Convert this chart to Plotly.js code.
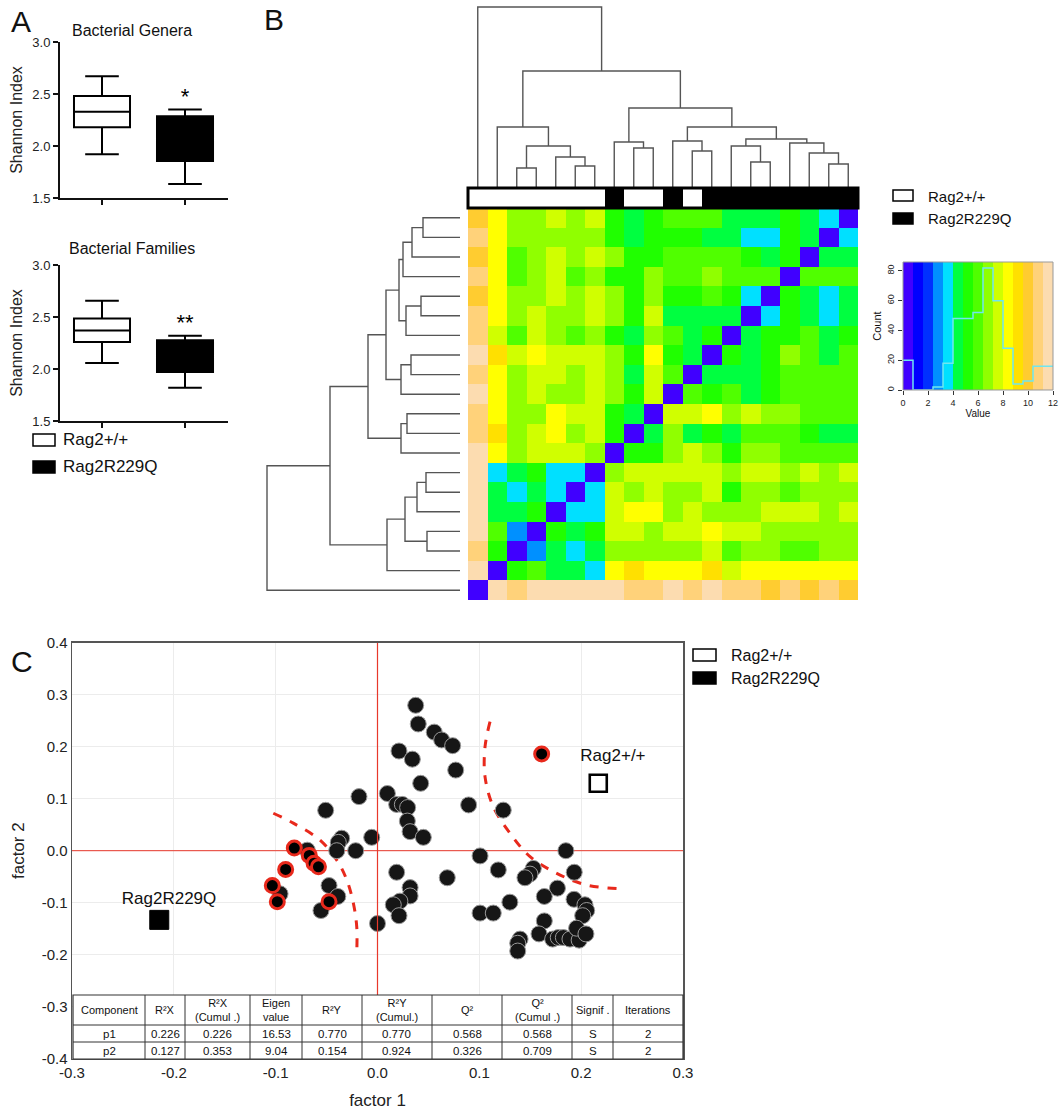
<!DOCTYPE html>
<html><head><meta charset="utf-8">
<script src="https://cdn.plot.ly/plotly-3.0.1.min.js"></script>
<style>body{margin:0;background:#fff}#chart{width:1060px;height:1120px}</style>
</head><body><div id="chart"></div>
<script>
// ---------------- Panel A data ----------------
const boxGroups = ['Rag2+/+', 'Rag2R229Q'];
const boxFill = ['#ffffff', '#000000'];
const generaQ1 = [2.18, 1.856];
const generaMedian = [2.33, 2.06];
const generaQ3 = [2.48, 2.285];
const generaLow = [1.92, 1.635];
const generaHigh = [2.67, 2.35];
const familiesQ1 = [2.26, 1.97];
const familiesMedian = [2.37, 2.12];
const familiesQ3 = [2.486, 2.277];
const familiesLow = [2.058, 1.82];
const familiesHigh = [2.656, 2.32];
const generaSig = ['', '*'];
const familiesSig = ['', '**'];
const shannonTicks = [1.5, 2.0, 2.5, 3.0];

// ---------------- Panel B data ----------------
const sampleIdx = [1,2,3,4,5,6,7,8,9,10,11,12,13,14,15,16,17,18,19,20];
const sampleGroup = [0,0,0,0,0,0,0,1,0,0,1,0,1,1,1,1,1,1,1,1]; // 0 = Rag2+/+, 1 = Rag2R229Q
const distMatrix = [
 [10.0,8.4,6.8,6.8,7.6,6.8,7.6,5.2,4.4,5.2,6.0,6.0,6.0,4.4,4.4,4.4,5.2,4.4,3.6,0.4],
 [10.8,8.4,6.8,6.8,6.8,6.8,6.8,5.2,4.4,5.2,5.2,5.2,4.4,4.4,3.6,3.6,5.2,4.4,0.4,3.6],
 [10.0,8.4,6.0,6.8,7.6,6.8,7.6,6.8,5.2,5.2,6.0,6.0,6.0,6.0,5.2,4.4,5.2,0.4,4.4,4.4],
 [10.8,8.4,6.0,6.8,7.6,6.0,6.8,5.2,5.2,6.8,6.0,6.0,6.8,6.0,6.0,6.0,0.4,6.0,6.0,6.0],
 [10.0,8.4,6.8,6.8,7.6,6.8,7.6,6.8,5.2,6.8,5.2,5.2,6.0,5.2,3.6,0.4,5.2,4.4,3.6,4.4],
 [10.8,8.4,6.8,7.6,6.8,6.8,7.6,6.8,5.2,7.6,4.4,4.4,4.4,4.4,0.4,3.6,5.2,4.4,3.6,4.4],
 [10.8,7.6,6.0,7.6,6.8,6.0,6.8,5.2,4.4,6.8,6.0,4.4,5.2,0.4,4.4,5.2,5.2,6.0,4.4,5.2],
 [11.6,9.2,7.6,8.4,7.6,7.6,7.6,6.8,5.2,8.4,5.2,4.4,0.4,5.2,4.4,5.2,6.8,6.0,4.4,6.0],
 [10.8,8.4,6.8,7.6,7.6,6.8,7.6,6.8,4.4,7.6,6.0,0.4,4.4,4.4,4.4,5.2,6.0,6.0,6.0,6.0],
 [11.6,8.4,6.8,7.6,6.8,6.8,7.6,6.8,5.2,7.6,0.4,6.0,5.2,6.0,4.4,5.2,6.0,6.0,6.0,6.0],
 [10.8,8.4,6.8,6.8,8.4,7.6,7.6,5.2,4.4,0.4,7.6,7.6,8.4,6.8,7.6,6.8,6.8,6.0,6.0,6.0],
 [10.8,9.2,6.8,7.6,8.4,6.8,7.6,5.2,0.4,4.4,6.8,4.4,5.2,4.4,6.0,6.0,6.0,5.2,4.4,4.4],
 [11.6,8.4,6.8,7.6,7.6,7.6,6.8,0.4,5.2,5.2,6.8,7.6,6.8,5.2,6.8,6.8,6.0,6.0,6.0,6.0],
 [11.6,3.6,4.4,5.2,3.6,3.6,0.4,6.8,7.6,7.6,7.6,7.6,7.6,6.8,7.6,7.6,6.8,7.6,6.8,7.6],
 [11.6,4.4,3.6,4.4,3.6,0.4,3.6,7.6,6.8,7.6,6.8,6.8,7.6,5.2,6.8,6.8,6.0,6.8,6.8,6.8],
 [11.6,4.4,4.4,5.2,0.4,3.6,3.6,7.6,8.4,8.4,6.8,7.6,6.8,6.8,6.8,7.6,7.6,7.6,6.8,7.6],
 [11.6,6.0,2.8,0.4,5.2,4.4,5.2,7.6,7.6,6.8,7.6,7.6,8.4,7.6,7.6,6.8,6.8,6.8,6.8,6.8],
 [10.8,5.2,0.4,2.8,4.4,3.6,4.4,6.8,6.8,6.8,6.8,6.8,7.6,6.0,6.8,6.8,6.0,6.0,6.8,6.8],
 [11.6,0.4,5.2,6.0,4.4,4.4,3.6,8.4,9.2,8.4,8.4,8.4,9.2,7.6,8.4,8.4,8.4,8.4,8.4,8.4],
 [0.4,11.6,10.8,11.6,11.6,11.6,11.6,11.6,10.8,10.8,11.6,10.8,11.6,10.8,10.8,10.0,10.8,10.0,10.8,10.0]
];
// column dendrogram: [left, right, height]; negative = leaf (column), positive = earlier merge
const colMerges = [
 [-6,-7,22],[-5,1,31],[-3,-4,20],[3,2,42],[-2,4,61],
 [-9,-10,40],[-8,6,46],[-12,-13,37],[-11,8,47],[-15,-16,26],
 [-14,10,42],[-19,-20,24],[-18,12,35],[-17,13,45],[11,14,49],
 [9,15,61],[7,16,80],[5,17,117],[-1,18,181]
];
// row dendrogram: negative = leaf (row from top)
const rowMerges = [
 [-1,-2,37],[1,-3,48],[2,-4,57],[-5,-6,39],[4,-7,54],
 [3,5,61],[-8,-9,49],[7,-10,59],[6,8,74],[-11,-12,53],
 [10,-13,59],[9,11,92],[-14,-15,34],[13,-16,43],[-17,-18,33],
 [14,15,55],[16,-19,73],[12,17,130],[18,-20,193]
];
const keyEdges = [0,0.8,1.6,2.4,3.2,4.0,4.8,5.6,6.4,7.2,8.0,8.8,9.6,10.4,11.2,12.0];
const keyColors = ['#4000ff','#0000ff','#0030ff','#0090ff','#00e0ff','#00ff40','#20ff00','#50ff00',
                   '#90ff00','#d0ff00','#ffff00','#ffe000','#ffcc30','#ffd27a','#fcdcb0'];
const keyTicks = [0,2,4,6,8,10,12];
const countTicks = [0,20,40,60,80];

// ---------------- Panel C data ----------------
const factor1 = [-0.0182,0.0097,-0.0509,-0.0057,-0.0352,-0.0385,-0.040,-0.0214,-0.069,-0.0957,
 -0.0476,-0.039,-0.0555,0.0,0.0375,0.040,0.0557,0.063,0.0738,0.0211,
 0.0342,0.0768,0.0424,0.0188,0.0244,0.0296,0.0293,0.032,0.045,0.0895,
 0.1235,0.185,0.1007,0.1186,0.153,0.1497,0.1448,0.1932,0.0685,0.0188,
 0.032,0.032,0.022,0.0155,0.0211,0.1767,0.1638,0.193,0.2037,0.2054,
 0.2015,0.130,0.1007,0.1137,0.1638,0.1586,0.172,0.1775,0.1825,0.189,
 0.198,0.1955,0.2047,0.140,0.1377,0.1377];
const factor2 = [0.104,0.110,0.0777,0.0257,0.024,0.016,0.0,0.0,0.001,-0.083,
 -0.067,-0.088,-0.115,-0.140,0.2796,0.2437,0.228,0.213,0.202,0.1917,
 0.176,0.155,0.1296,0.089,0.089,0.083,0.057,0.0366,0.0257,0.088,
 0.078,0.0,-0.010,-0.037,-0.034,-0.045,-0.052,-0.0415,-0.052,-0.0415,
 -0.071,-0.087,-0.097,-0.104,-0.125,-0.072,-0.088,-0.0935,-0.104,-0.115,
 -0.125,-0.099,-0.120,-0.120,-0.135,-0.160,-0.170,-0.167,-0.167,-0.170,
 -0.172,-0.149,-0.160,-0.170,-0.178,-0.193];
const outlierF1 = [-0.0817,-0.067,-0.0623,-0.058,-0.0902,-0.1033,-0.0984,-0.0476,0.1612];
const outlierF2 = [0.005,-0.009,-0.024,-0.031,-0.036,-0.067,-0.098,-0.098,0.186];
const centroidNames = ['Rag2R229Q','Rag2+/+'];
const centroidF1 = [-0.2143, 0.2168];
const centroidF2 = [-0.133, 0.1296];
const centroidLabelF1 = [-0.2047, 0.2312];
const centroidLabelF2 = [-0.0946, 0.181];
const boundLeftF1 = [-0.1023,-0.0827,-0.0565,-0.040,-0.0302,-0.0237,-0.0204,-0.0204];
const boundLeftF2 = [0.072,0.053,0.0206,-0.018,-0.056,-0.101,-0.146,-0.197];
const boundRightF1 = [0.1105,0.1056,0.1056,0.1137,0.1302,0.1498,0.1760,0.2055,0.243];
const boundRightF2 = [0.248,0.200,0.142,0.0846,0.0335,-0.0115,-0.0435,-0.066,-0.0737];
const originLineF1 = [-0.3, 0.3];
const originLineF2 = [0, 0];
const factorTicks = [-0.4,-0.3,-0.2,-0.1,0,0.1,0.2,0.3,0.4];
const factorTickText = ['-0.4','-0.3','-0.2','-0.1','0.0','0.1','0.2','0.3','0.4'];
const f1Ticks = [-0.3,-0.2,-0.1,0,0.1,0.2,0.3];
const f1TickText = ['-0.3','-0.2','-0.1','0.0','0.1','0.2','0.3'];
const tableHeader = ['Component','R²X','R²X<br>(Cumul .)','Eigen<br>value','R²Y','R²Y<br>(Cumul.)','Q²','Q²<br>(Cumul .)','Signif .','Iterations'];
const tableComponent = ['p1','p2'];
const tableR2X = ['0.226','0.127'];
const tableR2XCum = ['0.226','0.353'];
const tableEigen = ['16.53','9.04'];
const tableR2Y = ['0.770','0.154'];
const tableR2YCum = ['0.770','0.924'];
const tableQ2 = ['0.568','0.326'];
const tableQ2Cum = ['0.568','0.709'];
const tableSignif = ['S','S'];
const tableIter = ['2','2'];

// ---------------- helpers ----------------
const W = 1060, H = 1120;
const px = v => v / W, py = v => 1 - v / H;
const FONT = 'Liberation Sans, Arial, sans-serif';

function dendro(merges) {
  const pos = [], ht = [], p = [], h = [];
  merges.forEach(m => {
    const [a, b, hh] = m;
    const pa = a < 0 ? -a : pos[a - 1], ha = a < 0 ? 0 : ht[a - 1];
    const pb = b < 0 ? -b : pos[b - 1], hb = b < 0 ? 0 : ht[b - 1];
    p.push(pa, pa, pb, pb, null); h.push(ha, hh, hh, hb, null);
    pos.push((pa + pb) / 2); ht.push(hh);
  });
  return {p, h};
}
const stepScale = [];
keyColors.forEach((c, i) => { stepScale.push([i / keyColors.length, c]); stepScale.push([(i + 1) / keyColors.length, c]); });
const keyMids = keyColors.map((c, i) => (keyEdges[i] + keyEdges[i + 1]) / 2);
const counts = keyColors.map(() => 0);
distMatrix.forEach(r => r.forEach(v => {
  let k = Math.floor(v / 0.8); if (k > 14) k = 14; counts[k]++;
}));
const histY = counts.concat([counts[counts.length - 1]]);

const traces = [];
// Panel A boxes
function addBoxes(xa, ya, q1, med, q3, lo, hi) {
  boxGroups.forEach((g, i) => {
    traces.push({type: 'box', name: g, x: [i], q1: [q1[i]], median: [med[i]], q3: [q3[i]],
      lowerfence: [lo[i]], upperfence: [hi[i]], fillcolor: boxFill[i], width: 0.675,
      whiskerwidth: 0.6, line: {color: '#000', width: 2}, boxpoints: false,
      xaxis: xa, yaxis: ya, showlegend: false, hoverinfo: 'skip'});
  });
}
addBoxes('x', 'y', generaQ1, generaMedian, generaQ3, generaLow, generaHigh);
addBoxes('x2', 'y2', familiesQ1, familiesMedian, familiesQ3, familiesLow, familiesHigh);
traces.push({type: 'scatter', mode: 'text', x: [0, 1], y: generaHigh, text: generaSig,
  textposition: 'top center', textfont: {size: 22, family: FONT, color: '#000'}, xaxis: 'x', yaxis: 'y', showlegend: false});
traces.push({type: 'scatter', mode: 'text', x: [0, 1], y: familiesHigh, text: familiesSig,
  textposition: 'top center', textfont: {size: 22, family: FONT, color: '#000'}, xaxis: 'x2', yaxis: 'y2', showlegend: false});

// Panel B
traces.push({type: 'heatmap', z: distMatrix, x: sampleIdx, y: sampleIdx, zmin: 0, zmax: 12,
  colorscale: stepScale, showscale: false, xaxis: 'x3', yaxis: 'y3', hoverinfo: 'skip'});
traces.push({type: 'heatmap', z: [sampleGroup], x: sampleIdx, y: [0], zmin: 0, zmax: 1,
  colorscale: [[0, '#ffffff'], [1, '#000000']], showscale: false, xaxis: 'x3', yaxis: 'y4', hoverinfo: 'skip'});
const cd = dendro(colMerges);
traces.push({type: 'scatter', mode: 'lines', x: cd.p, y: cd.h, line: {color: '#555', width: 1.4},
  xaxis: 'x3', yaxis: 'y5', showlegend: false, hoverinfo: 'skip'});
const rd = dendro(rowMerges);
traces.push({type: 'scatter', mode: 'lines', x: rd.h, y: rd.p, line: {color: '#555', width: 1.4},
  xaxis: 'x4', yaxis: 'y3', showlegend: false, hoverinfo: 'skip'});
traces.push({type: 'heatmap', z: [keyMids], x: keyEdges, y: [0, 86], zmin: 0, zmax: 12,
  colorscale: stepScale, showscale: false, xaxis: 'x5', yaxis: 'y6', hoverinfo: 'skip'});
traces.push({type: 'scatter', mode: 'lines', x: keyEdges, y: histY, line: {shape: 'hv', color: '#6fe6f0', width: 1.5},
  xaxis: 'x5', yaxis: 'y6', showlegend: false, hoverinfo: 'skip'});

// Panel C
traces.push({type: 'scatter', mode: 'lines', x: originLineF1, y: originLineF2,
  line: {color: '#e8382b', width: 1}, xaxis: 'x6', yaxis: 'y7', showlegend: false, hoverinfo: 'skip'});
traces.push({type: 'scatter', mode: 'lines', x: boundLeftF1, y: boundLeftF2,
  line: {color: '#e8291c', width: 3, dash: 'dash', shape: 'spline'}, xaxis: 'x6', yaxis: 'y7', showlegend: false});
traces.push({type: 'scatter', mode: 'lines', x: boundRightF1, y: boundRightF2,
  line: {color: '#e8291c', width: 3, dash: 'dash', shape: 'spline'}, xaxis: 'x6', yaxis: 'y7', showlegend: false});
traces.push({type: 'scatter', mode: 'markers', x: factor1, y: factor2,
  marker: {size: 16, color: '#161616', line: {color: '#9a9a9a', width: 1}}, xaxis: 'x6', yaxis: 'y7', showlegend: false});
traces.push({type: 'scatter', mode: 'markers', x: outlierF1, y: outlierF2,
  marker: {size: 14, color: '#000', line: {color: '#e8291c', width: 3}}, xaxis: 'x6', yaxis: 'y7', showlegend: false});
traces.push({type: 'scatter', mode: 'markers', x: [centroidF1[0]], y: [centroidF2[0]],
  marker: {size: 19, symbol: 'square', color: '#000', line: {color: '#000', width: 1}}, xaxis: 'x6', yaxis: 'y7', showlegend: false});
traces.push({type: 'scatter', mode: 'markers', x: [centroidF1[1]], y: [centroidF2[1]],
  marker: {size: 17, symbol: 'square-open', color: '#000', line: {color: '#000', width: 2.6}}, xaxis: 'x6', yaxis: 'y7', showlegend: false});
traces.push({type: 'scatter', mode: 'text', x: centroidLabelF1, y: centroidLabelF2, text: centroidNames,
  textposition: 'middle center', textfont: {size: 17, family: FONT, color: '#111'}, xaxis: 'x6', yaxis: 'y7', showlegend: false});

// ---------------- layout ----------------
const aAxisX = (dom, anchor) => ({domain: dom, anchor: anchor, range: [-0.506, 1.518], showline: true, linewidth: 2,
  linecolor: '#111', ticks: 'outside', ticklen: 5, tickwidth: 2, tickcolor: '#111', tickvals: [0, 1], ticktext: ['', ''],
  showgrid: false, zeroline: false, fixedrange: true});
const aAxisY = (dom, anchor) => ({domain: dom, anchor: anchor, range: [1.5, 3.0], showline: true, linewidth: 2,
  linecolor: '#111', ticks: 'outside', ticklen: 5, tickwidth: 2, tickcolor: '#111', tickvals: shannonTicks,
  ticktext: shannonTicks.map(v => v.toFixed(1)), tickfont: {size: 13, family: FONT, color: '#222'},
  showgrid: false, zeroline: false, title: {text: 'Shannon Index', font: {size: 16, family: FONT, color: '#222'}, standoff: 6}});
const hidden = (dom, anchor, range) => ({domain: dom, anchor: anchor, range: range, visible: false, showgrid: false, zeroline: false});

const ann = (x, y, text, size, extra) => Object.assign({xref: 'paper', yref: 'paper', x: px(x), y: py(y), text: text,
  showarrow: false, font: {family: FONT, size: size, color: '#111'}, xanchor: 'left', yanchor: 'middle'}, extra || {});
const box = (x0, y0, x1, y1, fill) => ({type: 'rect', xref: 'paper', yref: 'paper', x0: px(x0), x1: px(x1), y0: py(y1), y1: py(y0),
  fillcolor: fill, line: {color: '#000', width: 1.5}});
const hline = (x0, x1, y, w) => ({type: 'line', xref: 'paper', yref: 'paper', x0: px(x0), x1: px(x1), y0: py(y), y1: py(y),
  line: {color: '#333', width: w || 1}});
const vline = (x, y0, y1, w) => ({type: 'line', xref: 'paper', yref: 'paper', x0: px(x), x1: px(x), y0: py(y0), y1: py(y1),
  line: {color: '#333', width: w || 1}});

// table drawn inside panel C (column edges and row edges in pixels)
const tColEdges = [73, 145, 185, 250, 302, 362, 432, 502, 572, 613, 683];
const tRowEdges = [995, 1025, 1042, 1059];
const tableBody = [tableComponent, tableR2X, tableR2XCum, tableEigen, tableR2Y, tableR2YCum, tableQ2, tableQ2Cum, tableSignif, tableIter];

const shapes = [
  {type: 'line', xref: 'x6', yref: 'y7', x0: 0, x1: 0, y0: -0.3, y1: 0.4, layer: 'above', line: {color: '#e8382b', width: 1.2}},
  {type: 'rect', xref: 'paper', yref: 'paper', x0: px(468), x1: px(858), y0: py(208), y1: py(188), line: {color: '#000', width: 3}, fillcolor: 'rgba(0,0,0,0)'},
  {type: 'rect', xref: 'paper', yref: 'paper', x0: px(903), x1: px(1053), y0: py(390), y1: py(262), line: {color: '#999', width: 1}, fillcolor: 'rgba(0,0,0,0)'},
  box(33, 434, 55, 446, '#fff'), box(33, 461, 55, 473, '#000'),
  box(893, 190, 913, 201, '#fff'), box(893, 213, 913, 224, '#000'),
  box(693, 649, 716, 661, '#fff'), box(693, 672, 716, 684, '#000'),
  {type: 'rect', xref: 'paper', yref: 'paper', x0: px(73), x1: px(683), y0: py(1059), y1: py(995), fillcolor: '#fff', line: {color: '#333', width: 1.2}}
];
tRowEdges.slice(1, -1).forEach(y => shapes.push(hline(73, 683, y)));
tColEdges.slice(1, -1).forEach(x => shapes.push(vline(x, 995, 1059)));

const annotations = [
  ann(9, 21, 'A', 30), ann(262, 19, 'B', 30), ann(9, 661, 'C', 30),
  ann(132, 30, 'Bacterial Genera', 16, {xanchor: 'center'}),
  ann(132, 248, 'Bacterial Families', 16, {xanchor: 'center'}),
  ann(61, 440, 'Rag2+/+', 17), ann(61, 467, 'Rag2R229Q', 17),
  ann(926, 196, 'Rag2+/+', 15), ann(926, 219, 'Rag2R229Q', 15),
  ann(729, 655, 'Rag2+/+', 16), ann(729, 678, 'Rag2R229Q', 16)
];
tableHeader.forEach((t, j) => {
  annotations.push(ann((tColEdges[j] + tColEdges[j + 1]) / 2, (tRowEdges[0] + tRowEdges[1]) / 2, t, 11,
    {xanchor: 'center', font: {family: FONT, size: 11, color: '#111'}}));
});
tableBody.forEach((col, j) => col.forEach((v, i) => {
  annotations.push(ann((tColEdges[j] + tColEdges[j + 1]) / 2, (tRowEdges[i + 1] + tRowEdges[i + 2]) / 2, v, 11,
    {xanchor: 'center', font: {family: FONT, size: 11.5, color: '#111'}}));
}));

const layout = {
  width: W, height: H, margin: {l: 0, r: 0, t: 0, b: 0}, paper_bgcolor: '#fff', plot_bgcolor: 'rgba(0,0,0,0)',
  font: {family: FONT, color: '#111'}, showlegend: false,
  xaxis: aAxisX([px(60), px(228)], 'y'),
  yaxis: aAxisY([py(198), py(42)], 'x'),
  xaxis2: aAxisX([px(60), px(228)], 'y2'),
  yaxis2: aAxisY([py(421), py(265)], 'x2'),
  xaxis3: hidden([px(468), px(858)], 'y3', [0.5, 20.5]),
  yaxis3: hidden([py(600), py(208)], 'x3', [20.5, 0.5]),
  yaxis4: hidden([py(208), py(188)], 'x3', [-0.5, 0.5]),
  yaxis5: hidden([py(188), py(4)], 'x3', [0, 184]),
  xaxis4: hidden([px(262), px(460)], 'y3', [198, 0]),
  xaxis5: {domain: [px(903), px(1053)], anchor: 'y6', range: [0, 12], tickvals: keyTicks, ticks: 'outside', ticklen: 4,
    tickcolor: '#333', tickfont: {size: 9, family: FONT, color: '#222'}, showgrid: false, zeroline: false,
    showline: false, title: {text: 'Value', font: {size: 10, family: FONT}, standoff: 0}},
  yaxis6: {domain: [py(390), py(262)], anchor: 'x5', range: [0, 86], tickvals: countTicks, ticks: 'outside', ticklen: 4,
    tickangle: -90, tickcolor: '#333', tickfont: {size: 9, family: FONT, color: '#222'}, showgrid: false, zeroline: false,
    showline: false, title: {text: 'Count', font: {size: 11, family: FONT}, standoff: 2}},
  xaxis6: {domain: [px(72), px(683)], anchor: 'y7', range: [-0.3, 0.3], tickvals: f1Ticks, ticktext: f1TickText,
    showgrid: true, gridcolor: '#ececec', gridwidth: 1, zeroline: false,
    showline: true, mirror: true, linecolor: '#555', linewidth: 1.5, ticks: '',
    tickfont: {size: 15, family: FONT, color: '#222'}, title: {text: 'factor 1', font: {size: 17, family: FONT, color: '#222'}, standoff: 14}},
  yaxis7: {domain: [py(1058.7), py(642.7)], anchor: 'x6', range: [-0.4, 0.4], tickvals: factorTicks, ticktext: factorTickText,
    showgrid: true, gridcolor: '#ececec', gridwidth: 1, zeroline: false,
    showline: true, mirror: true, linecolor: '#555', linewidth: 1.5, ticks: '',
    tickfont: {size: 15, family: FONT, color: '#222'}, title: {text: 'factor 2', font: {size: 17, family: FONT, color: '#222'}, standoff: 12}},
  shapes: shapes,
  annotations: annotations
};
Plotly.newPlot('chart', traces, layout, {staticPlot: true, displayModeBar: false});
</script>
</body></html>
